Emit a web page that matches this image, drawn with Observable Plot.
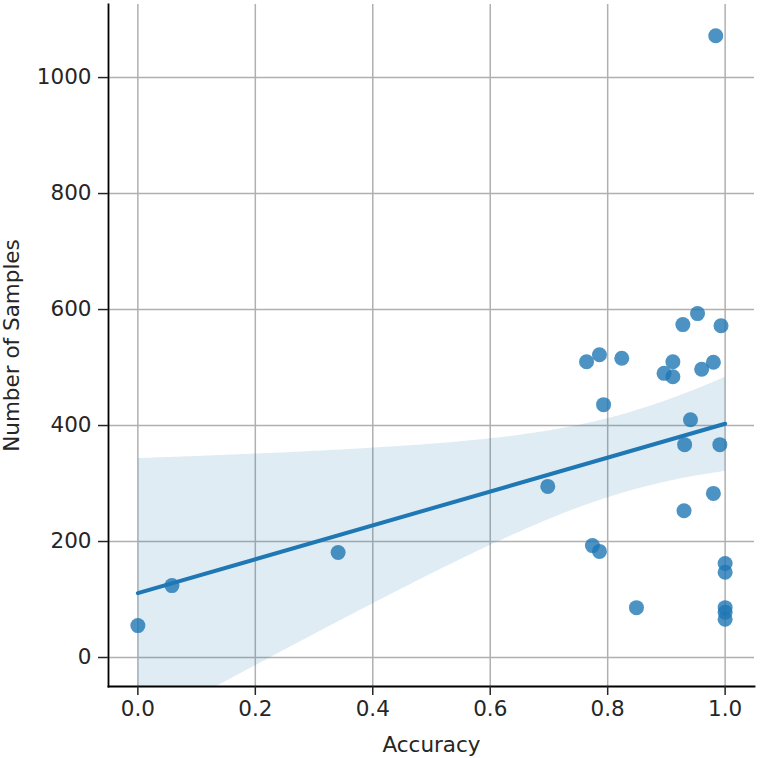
<!DOCTYPE html>
<html>
<head>
<meta charset="utf-8">
<script src="https://cdn.jsdelivr.net/npm/d3@7"></script>
<script src="https://cdn.jsdelivr.net/npm/@observablehq/plot@0.6"></script>
<style>
  html, body { margin: 0; padding: 0; background: #fff; }
  #chart svg { display: block; }
</style>
</head>
<body>
<div id="chart"></div>
<script>
// Data
const accuracy = [0, 0.058, 0.341, 0.698, 0.764, 0.786, 0.824, 0.793, 0.774, 0.786,
  0.849, 0.928, 0.953, 0.993, 0.911, 0.896, 0.911, 0.960, 0.980, 0.941,
  0.931, 0.991, 0.980, 0.930, 1.0, 1.0, 1.0, 1.0, 1.0, 0.984];
const samples = [55, 124, 181, 295, 510, 522, 516, 436, 193, 183,
  86, 574, 593, 572, 510, 490, 484, 497, 509, 410,
  367, 367, 283, 253, 162, 147, 86, 78, 66, 1072];
const xTicks = [0, 0.2, 0.4, 0.6, 0.8, 1.0];
const yTicks = [0, 200, 400, 600, 800, 1000];

const data = accuracy.map((a, i) => ({accuracy: a, samples: samples[i]}));
const blue = "#1f77b4";

const chart = Plot.plot({
  width: 760,
  height: 758,
  marginLeft: 108,
  marginRight: 6,
  marginTop: 4,
  marginBottom: 72,
  style: {fontFamily: "DejaVu Sans", fontSize: "21px", color: "#262626", background: "#fff"},
  x: {domain: [-0.05, 1.05]},
  y: {domain: [-50, 1126]},
  marks: [
    Plot.gridX(xTicks, {stroke: "#b0b0b0", strokeOpacity: 1, strokeWidth: 1.5}),
    Plot.gridY(yTicks, {stroke: "#b0b0b0", strokeOpacity: 1, strokeWidth: 1.5}),
    Plot.dot(data, {x: "accuracy", y: "samples", r: 7.5, fill: blue, fillOpacity: 0.8, stroke: "none"}),
    Plot.linearRegressionY(data, {x: "accuracy", y: "samples", stroke: blue, strokeWidth: 4, fill: blue, fillOpacity: 0.14, ci: 0.9, clip: true}),
    Plot.frame({anchor: "left", stroke: "#000", strokeWidth: 1.8}),
    Plot.frame({anchor: "bottom", stroke: "#000", strokeWidth: 1.8}),
    Plot.axisX(xTicks, {tickSize: 9, tickPadding: 5, strokeWidth: 1.5, tickFormat: d3.format(".1f"),
      label: "Accuracy", labelAnchor: "center", labelArrow: "none", labelOffset: 65, fontSize: 21.5}),
    Plot.axisY(yTicks, {tickSize: 10, tickPadding: 7, strokeWidth: 1.5, tickFormat: d => String(d),
      label: "Number of Samples", labelAnchor: "center", labelArrow: "none", labelOffset: 105, fontSize: 21.5})
  ]
});
document.getElementById("chart").appendChild(chart);
</script>
</body>
</html>
